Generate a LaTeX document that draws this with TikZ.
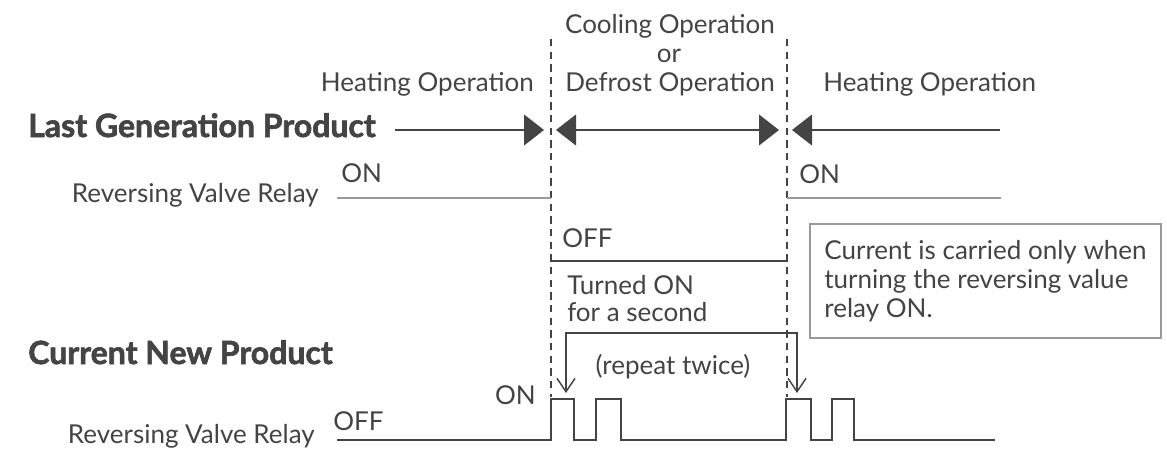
\documentclass[tikz,border=0pt]{standalone}
\usepackage{fontspec}
\setmainfont{Lato}
\newfontfamily\dickfont[BoldFeatures={FakeBold=2}]{Lato}
\usetikzlibrary{arrows.meta,positioning}
\definecolor{dunkel}{HTML}{444444}
\definecolor{mittel}{HTML}{999999}
\tikzset{
  pfeil/.style={-{Triangle[length=15pt,width=23pt]},dunkel,line width=1.5pt},
  pfeilb/.style={{Triangle[length=15pt,width=23pt]}-{Triangle[length=15pt,width=23pt]},dunkel,line width=1.5pt},
  grenze/.style={dunkel,line width=1.5pt,dash pattern=on 5.5pt off 4pt},
  relais/.style={mittel,line width=1.5pt},
  signal/.style={dunkel,line width=1.5pt},
  wiederholung/.style={{Straight Barb[length=10pt,width=13.5pt]}-{Straight Barb[length=10pt,width=13.5pt]},dunkel,line width=1.1pt},
  txt/.style={text=dunkel,font=\fontsize{19.5pt}{21.75pt}\selectfont,inner sep=0pt},
  titel/.style={text=dunkel,font=\dickfont\fontsize{24pt}{28pt}\selectfont\bfseries,inner sep=0pt},
  notiz/.style={txt,draw=mittel,line width=1.5pt,align=left,minimum width=263.25pt,minimum height=85.5pt},
}
\begin{document}
\begin{tikzpicture}[x=0.75pt,y=-0.75pt]
  \useasboundingbox (0,0) rectangle (1167,450);
  \coordinate (gl0) at (551,39);
  \coordinate (gl1) at (551,397);
  \coordinate (gr0) at (787,39);
  \coordinate (gr1) at (787,397);
  \draw[grenze] (gl0) -- (gl1);
  \draw[grenze] (gr0) -- (gr1);

  \node[txt,anchor=base east] (heizen1) at (534,91) {Heating Operation};
  \node[txt,anchor=base] (kuehlen) at (670,33) {Cooling Operation};
  \node[txt,anchor=base] (oder) at (669,62) {or};
  \node[txt,anchor=base] (abtauen) at (670,91) {Defrost Operation};
  \node[txt,anchor=base west] (heizen2) at (823,91) {Heating Operation};

  \node[titel,anchor=base west] (alt) at (28,137) {Last Generation Product};
  \coordinate (p0) at (395,130);
  \coordinate (p1) at (544,130);
  \coordinate (p2) at (556,130);
  \coordinate (p3) at (779,130);
  \coordinate (p4) at (1000,130);
  \coordinate (p5) at (792,130);
  \draw[pfeil] (p0) -- (p1);
  \draw[pfeilb] (p2) -- (p3);
  \draw[pfeil] (p4) -- (p5);

  \node[txt,anchor=base east] (rvr1) at (319,202) {Reversing Valve Relay};
  \node[txt,anchor=base west] (an1) at (341,182) {ON};
  \node[txt,anchor=base west] (an2) at (799,183) {ON};
  \node[txt,anchor=base west] (aus1) at (562,247) {OFF};
  \draw[relais] (337,198) -- (551,198);
  \draw[signal] (551,261) -- (787,261);
  \draw[relais] (787,198) -- (1001,198);

  \node[notiz,anchor=north west] (hinweis) at (809,223) {Current is carried only when\\turning the reversing value\\relay ON.};

  \node[titel,anchor=base west] (neu) at (28,364) {Current New Product};
  \node[txt,anchor=base east] (rvr2) at (315,443) {Reversing Valve Relay};
  \node[txt,anchor=base west] (aus2) at (333,430) {OFF};
  \node[txt,anchor=base east] (an3) at (536,404) {ON};
  \draw[signal] (337,440) -- (551,440) -- (551,399) -- (574,399) -- (574,440)
    -- (596,440) -- (596,399) -- (621,399) -- (621,440) -- (786,440)
    -- (786,399) -- (811,399) -- (811,440) -- (832,440) -- (832,399)
    -- (854,399) -- (854,440) -- (995,440);

  \node[txt,anchor=base west] (einmal1) at (567,294) {Turned ON};
  \node[txt,anchor=base west] (einmal2) at (567,321) {for a second};
  \node[txt,anchor=base] (zweimal) at (673,374) {(repeat twice)};
  \coordinate (zl) at (566,393);
  \coordinate (zr) at (797,393);
  \draw[wiederholung] (zl) -- ++(0,-60) -| (zr);
\end{tikzpicture}
\end{document}
